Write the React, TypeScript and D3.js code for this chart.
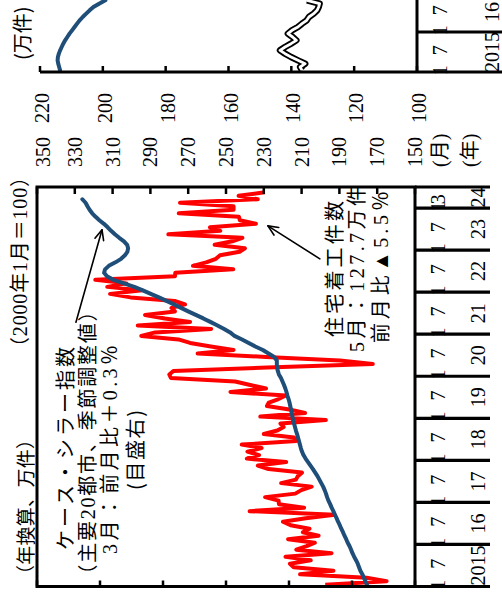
import React from "react";
import * as d3 from "d3";

// ---------- Main chart: housing starts (left axis, 万件, SAAR) ----------
const housingStarts2015 = [108.5, 89.0, 95.4, 116.5, 105.9, 118.5, 119.7, 113.1, 121.1, 106.5, 117.7, 114.4];
const housingStarts2016 = [111.8, 120.3, 110.6, 115.6, 113.5, 119.5, 121.9, 114.7, 105.5, 132.5, 115.2, 123.2];
const housingStarts2017 = [123.3, 127.6, 118.0, 116.1, 112.8, 122.5, 117.8, 117.2, 115.9, 126.5, 129.9, 120.9];
const housingStarts2018 = [133.4, 129.5, 133.2, 128.7, 135.0, 117.7, 118.4, 128.0, 123.7, 121.7, 122.7, 108.3];
const housingStarts2019 = [129.1, 114.9, 119.9, 127.0, 126.4, 123.3, 121.0, 138.6, 127.3, 132.3, 137.1, 157.5];
const housingStarts2020 = [158.0, 156.7, 126.9, 93.4, 103.8, 127.3, 149.0, 137.6, 144.8, 151.4, 155.1, 166.9];
const housingStarts2021 = [162.5, 144.7, 168.0, 151.4, 159.4, 165.7, 156.2, 157.3, 153.0, 156.3, 170.3, 176.8];
const housingStarts2022 = [166.6, 177.7, 171.6, 181.5, 156.2, 156.1, 137.7, 150.5, 146.3, 143.2, 141.9, 135.7];
const housingStarts2023 = [134.0, 143.6, 138.0, 134.8, 158.3, 141.8, 145.1, 130.5, 135.6, 135.9, 155.0, 137.6];
const housingStarts2024 = [137.6, 154.6, 129.9, 136.0, 127.7];

// ---------- Main chart: Case-Shiller 20 city SA (right axis, 2000/1=100) ----------
const caseShiller2015 = [175.4, 176.2, 177.0, 177.9, 178.9, 179.6, 180.3, 181.2, 182.2, 183.1, 183.8, 184.6];
const caseShiller2016 = [185.6, 186.4, 187.3, 188.1, 189.0, 189.8, 190.7, 191.5, 192.4, 193.2, 194.1, 194.9];
const caseShiller2017 = [195.8, 196.5, 197.1, 197.8, 198.6, 199.6, 200.6, 201.6, 202.8, 204.0, 205.3, 206.6];
const caseShiller2018 = [207.9, 209.0, 209.8, 210.4, 210.9, 211.4, 211.9, 212.4, 213.0, 213.5, 214.0, 214.5];
const caseShiller2019 = [214.9, 215.2, 215.6, 216.0, 216.4, 216.9, 217.5, 218.0, 218.6, 219.3, 220.1, 220.9];
const caseShiller2020 = [222.0, 222.6, 223.0, 223.1, 223.1, 224.5, 227.5, 230.5, 234.5, 238.0, 241.5, 245.5];
const caseShiller2021 = [247.8, 251.0, 254.5, 258.3, 262.0, 266.0, 270.0, 273.8, 277.5, 281.5, 285.5, 289.8];
const caseShiller2022 = [294.0, 298.5, 304.0, 309.5, 313.0, 314.5, 314.0, 312.0, 308.5, 305.5, 303.5, 302.2];
const caseShiller2023 = [301.8, 302.3, 304.0, 306.5, 308.8, 310.8, 312.6, 314.6, 317.0, 319.0, 320.8, 322.2];
const caseShiller2024 = [323.3, 324.3, 326.0];

const leftAxisTicks = [80, 100, 120, 140, 160, 180, 200];
const rightAxisTicks = [350, 330, 310, 290, 270, 250, 230, 210, 190, 170, 150];
const yearLabels = ["2015", "16", "17", "18", "19", "20", "21", "22", "23", "24"];
const monthLabels = ["1", "7"];
const lastMonthLabel = { month: 110, text: "3" };

// ---------- Neighbouring (partly visible) chart ----------
const subBlue = [213.6, 213.9, 214.2, 214.4, 214.3, 214.0, 213.6, 213.1, 212.6, 212.0, 211.3, 210.6, 209.8, 209.0, 208.2, 207.4, 206.4, 205.3, 204.2, 203.0, 201.2, 199.2];
const subWhite = [136.6, 137.2, 135.6, 137.9, 140.1, 142.0, 143.6, 142.0, 140.1, 138.4, 139.6, 141.1, 139.8, 137.9, 136.6, 135.1, 134.4, 132.9, 131.8, 131.3, 131.0, 135.0];
const subAxisTicks = [220, 200, 180, 160, 140, 120, 100];
const subYearLabels = ["2015", "16"];

const housingStarts = [
  ...housingStarts2015, ...housingStarts2016, ...housingStarts2017, ...housingStarts2018, ...housingStarts2019,
  ...housingStarts2020, ...housingStarts2021, ...housingStarts2022, ...housingStarts2023, ...housingStarts2024,
];
const caseShiller = [
  ...caseShiller2015, ...caseShiller2016, ...caseShiller2017, ...caseShiller2018, ...caseShiller2019,
  ...caseShiller2020, ...caseShiller2021, ...caseShiller2022, ...caseShiller2023, ...caseShiller2024,
];

const SERIF = "'Liberation Serif', 'Noto Sans CJK JP', serif";
const JP = "'Noto Sans CJK JP', 'Noto Sans', sans-serif";

function T(props: any) {
  const { x, y, anchor = "start", size = 20, family = SERIF, len, children } = props;
  const extra: any = len ? { textLength: len, lengthAdjust: "spacing" } : {};
  return (
    <text x={x} y={y} textAnchor={anchor} dominantBaseline="central" fontSize={size} fontFamily={family} fill="#000" {...extra}>
      {children}
    </text>
  );
}

function Arrow({ x1, y1, x2, y2 }: any) {
  const ang = Math.atan2(y2 - y1, x2 - x1);
  const L = 11, a = 0.42;
  const p1 = [x2 - L * Math.cos(ang - a), y2 - L * Math.sin(ang - a)];
  const p2 = [x2 - L * Math.cos(ang + a), y2 - L * Math.sin(ang + a)];
  return (
    <g stroke="#000" strokeWidth={1.6} fill="none" strokeLinecap="round" strokeLinejoin="round">
      <line x1={x1} y1={y1} x2={x2} y2={y2} />
      <polyline points={`${p1[0]},${p1[1]} ${x2},${y2} ${p2[0]},${p2[1]}`} />
    </g>
  );
}

export default function App() {
  // drawing in the chart's own (landscape) orientation, then rotated -90deg
  const x = d3.scaleLinear().domain([0, 114]).range([5.5, 405]);
  const yL = d3.scaleLinear().domain([80, 200]).range([415, 37]);
  const yR = d3.scaleLinear().domain([150, 350]).range([415, 37]);
  const mx = (i: number) => x(i + 0.5);

  const redPath = d3.line<number>().x((_, i) => mx(i)).y((d) => yL(d))(housingStarts) || "";
  const bluePath = d3.line<number>().x((_, i) => mx(i)).y((d) => yR(d))(caseShiller) || "";

  const xs = d3.scaleLinear().domain([0, 12]).range([520, 560]);
  const ys = d3.scaleLinear().domain([100, 220]).range([417, 40]);
  const sBlue = d3.line<number>().x((_, i) => xs(i + 0.5)).y((d) => ys(d))(subBlue) || "";
  const sWhite = d3.line<number>().x((_, i) => xs(i + 0.5)).y((d) => ys(d))(subWhite) || "";

  const yearStarts = yearLabels.map((_, k) => k * 12);

  return (
    <svg width={502} height={592} style={{ position: "absolute", left: 0, top: 0, background: "#fff" }}>
      <rect width={502} height={592} fill="#fff" />
      <g transform="translate(0,592) rotate(-90)">
        {/* ---------- main chart ---------- */}
        <path d={redPath} fill="none" stroke="#ff0000" strokeWidth={4} strokeLinejoin="round" />
        <path d={bluePath} fill="none" stroke="#1f4e79" strokeWidth={4} strokeLinejoin="round" strokeLinecap="round" />

        {/* frame */}
        <rect x={x(0)} y={37} width={x(114) - x(0)} height={415 - 37} fill="none" stroke="#000" strokeWidth={3} />
        {/* year separators below the axis */}
        {yearStarts.map((m) => (
          <line key={"sep" + m} x1={x(m)} x2={x(m)} y1={415} y2={490} stroke="#000" strokeWidth={3.2} />
        ))}
        <line x1={x(114)} x2={x(114)} y1={415} y2={490} stroke="#000" strokeWidth={3.2} />

        {/* left ticks */}
        {leftAxisTicks.map((v) => (
          <line key={"lt" + v} x1={x(0)} x2={x(0) + 6} y1={yL(v)} y2={yL(v)} stroke="#000" strokeWidth={2.5} />
        ))}
        {/* right ticks and labels */}
        {rightAxisTicks.map((v) => (
          <line key={"rt" + v} x1={x(114)} x2={x(114) - 7} y1={yR(v)} y2={yR(v)} stroke="#000" strokeWidth={2.5} />
        ))}
        {rightAxisTicks.map((v) => (
          <T key={"rl" + v} x={425} y={Math.max(yR(v), 43)}>{String(v)}</T>
        ))}

        {/* month & year labels */}
        {yearStarts.map((m) => (
          <T key={"m1" + m} x={mx(m)} y={438} anchor="middle">{monthLabels[0]}</T>
        ))}
        {yearStarts.filter((m) => m + 6 < 114).map((m) => (
          <T key={"m7" + m} x={mx(m + 6)} y={438} anchor="middle">{monthLabels[1]}</T>
        ))}
        <T x={mx(lastMonthLabel.month)} y={438} anchor="middle">{lastMonthLabel.text}</T>
        {yearLabels.map((lab, k) => (
          <T key={"yl" + lab} x={(x(k * 12) + x(Math.min(k * 12 + 12, 114))) / 2} y={478} anchor="middle">{lab}</T>
        ))}
        <T x={425} y={440}>(月)</T>
        <T x={425} y={470}>(年)</T>

        {/* unit labels */}
        <T x={8} y={24} family={JP} size={19} len={154}>（年換算、万件）</T>
        <T x={425} y={20} anchor="end" len={190}>（2000年1月＝100）</T>

        {/* Case-Shiller annotation */}
        <T x={143.5} y={64} anchor="middle" family={JP} len={203}>ケース・シラー指数</T>
        <T x={149} y={88} anchor="middle" len={283}>（主要20都市、季節調整値）</T>
        <T x={142.5} y={110} anchor="middle" len={209}>3月：前月比＋0.3％</T>
        <T x={142} y={134} anchor="middle" family={JP} len={80}>(目盛右)</T>
        <Arrow x1={mx(74.9)} y1={yR(329.4)} x2={mx(101.3)} y2={yR(315.6)} />

        {/* housing starts annotation */}
        <T x={323} y={333} anchor="middle" family={JP} len={136}>住宅着工件数</T>
        <T x={323} y={357} anchor="middle" len={166}>5月：127.7万件</T>
        <T x={325} y={381} anchor="middle" len={152}>前月比▲5.5％</T>
        <Arrow x1={mx(93)} y1={yL(110.2)} x2={mx(102.4)} y2={yL(126.7)} />

        {/* ---------- neighbouring chart (cut off) ---------- */}
        <path d={sWhite} fill="none" stroke="#000" strokeWidth={6.5} strokeLinejoin="round" />
        <path d={sWhite} fill="none" stroke="#fff" strokeWidth={2.8} strokeLinejoin="round" />
        <path d={sBlue} fill="none" stroke="#1f4e79" strokeWidth={4} strokeLinejoin="round" strokeLinecap="round" />
        <line x1={xs(0)} x2={xs(0)} y1={ys(220)} y2={502} stroke="#000" strokeWidth={3} />
        <line x1={xs(0)} x2={600} y1={ys(100)} y2={ys(100)} stroke="#000" strokeWidth={3} />
        <line x1={xs(12)} x2={xs(12)} y1={ys(100)} y2={502} stroke="#000" strokeWidth={3.2} />
        {subAxisTicks.map((v) => (
          <line key={"st" + v} x1={xs(0)} x2={xs(0) + 6} y1={ys(v)} y2={ys(v)} stroke="#000" strokeWidth={2.5} />
        ))}
        {subAxisTicks.map((v) => (
          <T key={"sl" + v} x={499} y={ys(v) + 2} anchor="end">{String(v)}</T>
        ))}
        {[0, 12].map((m) => (
          <T key={"sm1" + m} x={xs(m + 0.5)} y={440} anchor="middle">{monthLabels[0]}</T>
        ))}
        {[6, 18].map((m) => (
          <T key={"sm7" + m} x={xs(m + 0.5)} y={440} anchor="middle">{monthLabels[1]}</T>
        ))}
        {subYearLabels.map((lab, k) => (
          <T key={"sy" + lab} x={xs(k * 12 + 6)} y={492} anchor="middle">{lab}</T>
        ))}
        <T x={532} y={21} family={JP}>(万件)</T>
      </g>
    </svg>
  );
}
